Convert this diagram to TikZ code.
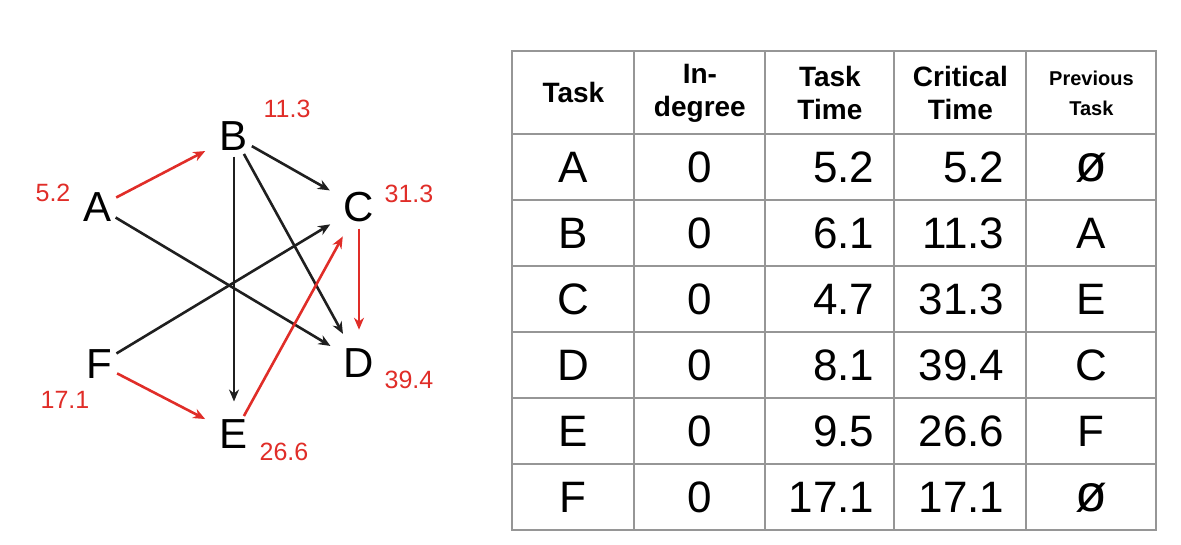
\documentclass[tikz,border=0pt]{standalone}
\usepackage{fontspec}
\setmainfont{Liberation Sans}
\usetikzlibrary{arrows.meta,matrix}
\definecolor{critred}{RGB}{224,45,40}
\definecolor{gridgray}{RGB}{150,150,150}
\newcommand{\noprev}{{\fontsize{26}{28}\selectfont ø}}

\begin{document}
\begin{tikzpicture}[x=0.5pt,y=-0.5pt,
    vertex/.style={circle,minimum size=20pt,inner sep=0pt,font=\fontsize{21}{24}\selectfont},
    weight/.style={text=critred,inner sep=0pt,font=\fontsize{12.5}{15}\selectfont},
    link/.style={line width=1.3pt,draw=black!88,-{Stealth[length=6pt,width=5pt]},shorten >=6pt},
    critlink/.style={link,draw=critred}]
        \useasboundingbox (0,0) rectangle (1181,545);
        \node[vertex] (a) at (98,207) {A};
        \node[vertex] (b) at (234,136) {B};
        \node[vertex] (c) at (359,207) {C};
        \node[vertex] (d) at (359,363) {D};
        \node[vertex] (e) at (234,434) {E};
        \node[vertex] (f) at (99,364) {F};
        \node[weight] (wa) at (53,193) {5.2};
        \node[weight] (wb) at (287,109) {11.3};
        \node[weight] (wc) at (409,194) {31.3};
        \node[weight] (wd) at (409,380) {39.4};
        \node[weight] (we) at (284,452) {26.6};
        \node[weight] (wf) at (65,400) {17.1};
        \draw[link] (a) -- (d);
        \draw[link] (f) -- (c);
        \draw[link] (b) -- (c);
        \draw[link] (b) -- (d);
        \draw[link] (b) -- (e);
        \draw[critlink] (a) -- (b);
        \draw[critlink] (c) -- (d);
        \draw[critlink] (f) -- (e);
        \draw[critlink] (e) -- (c);
        \matrix [matrix of nodes,anchor=north west,inner sep=0pt,column sep=-1pt,row sep=-1pt,
            nodes={draw=gridgray,line width=1pt,anchor=center,inner sep=2pt,minimum height=33pt,font=\fontsize{22}{26}\selectfont},
            column 1/.style={nodes={minimum width=61pt}},
            column 2/.style={nodes={minimum width=65.5pt}},
            column 3/.style={nodes={minimum width=64.5pt,inner xsep=10pt,text width=44.5pt,align=right}},
            column 4/.style={nodes={minimum width=66pt,inner xsep=11pt,text width=44pt,align=right}},
            column 5/.style={nodes={minimum width=65pt}},
            row 1/.style={nodes={minimum height=41.5pt,inner xsep=2pt,text width=56pt,align=center,font=\bfseries\fontsize{14}{16.5}\selectfont}}] (tab) at (511,50)
        {
            Task & {In-\\degree} & {Task\\Time} & {Critical\\Time} & |[font=\bfseries\fontsize{10}{15}\selectfont]| {Previous\\Task} \\
            A & 0 & 5.2 & 5.2 & \noprev \\
            B & 0 & 6.1 & 11.3 & A \\
            C & 0 & 4.7 & 31.3 & E \\
            D & 0 & 8.1 & 39.4 & C \\
            E & 0 & 9.5 & 26.6 & F \\
            F & 0 & 17.1 & 17.1 & \noprev \\
        };
\end{tikzpicture}
\end{document}
